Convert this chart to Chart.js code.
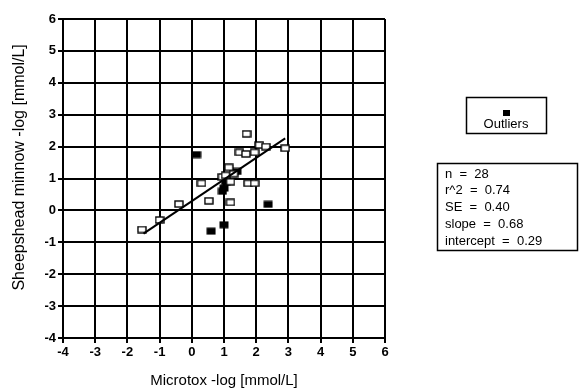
<!DOCTYPE html>
<html>
<head>
<meta charset="utf-8">
<script src="https://cdn.jsdelivr.net/npm/chart.js@4"></script>
<style>
  html, body { margin: 0; padding: 0; background: #fff; }
  #wrap { width: 581px; height: 391px; position: relative; }
</style>
</head>
<body>
<div id="wrap"><canvas id="fishChart" width="581" height="391"></canvas></div>
<script>
// data
const regularX = [-1.55, -1.0, -0.4, 0.3, 0.53, 1.2, 0.95, 1.15, 1.2, 1.75, 1.95, 1.48, 1.68, 1.95, 1.7, 2.1, 2.3, 2.9, 1.05, 1.3];
const regularY = [-0.6, -0.3, 0.2, 0.85, 0.3, 0.25, 1.05, 1.35, 0.9, 0.85, 0.85, 1.82, 1.77, 1.82, 2.4, 2.05, 2.0, 1.95, 1.1, 1.15];
const outlierX = [0.15, 2.37, 0.6, 1.0, 0.95, 1.0, 1.4, 1.05];
const outlierY = [1.75, 0.19, -0.65, -0.45, 0.6, 0.7, 1.22, 0.9];
const fitX = [-1.5, 2.9];
const fitY = [-0.73, 2.26];
const statsLines = ["n = 28", "r^2 = 0.74", "SE = 0.40", "slope = 0.68", "intercept = 0.29"];
const legendLabel = "Outliers";

const toPoints = (xs, ys) => xs.map((x, i) => ({ x: x, y: ys[i] }));

// little 9x7 squares like the scanned markers
function marker(filled) {
  const c = document.createElement("canvas");
  c.width = 10;
  c.height = 8;
  const g = c.getContext("2d");
  if (filled) {
    g.fillStyle = "#000";
    g.fillRect(0.5, 0.5, 9, 7);
  } else {
    g.fillStyle = "#fff";
    g.fillRect(1, 1, 8, 6);
    g.strokeStyle = "#000";
    g.lineWidth = 1.4;
    g.strokeRect(1, 1, 8, 6);
  }
  return c;
}
const openMark = marker(false);
const solidMark = marker(true);

const boxPlugin = {
  id: "boxes",
  afterDraw(chart) {
    const ctx = chart.ctx;
    ctx.save();
    ctx.strokeStyle = "#000";
    ctx.lineWidth = 1.5;
    ctx.fillStyle = "#000";
    // legend box
    ctx.strokeRect(466.5, 97.5, 80, 36);
    ctx.fillRect(503, 110, 7, 6);
    ctx.font = "13px 'Liberation Sans', Arial, sans-serif";
    ctx.textAlign = "center";
    ctx.textBaseline = "middle";
    ctx.fillText(legendLabel, 506, 124);
    // stats box
    ctx.strokeRect(437.5, 163.5, 140, 87);
    ctx.textAlign = "left";
    statsLines.forEach((s, i) => ctx.fillText(s.replace(/ = /, "  =  "), 445, 174 + i * 16.8));
    ctx.restore();
  },
};

const tickFont = { family: "'Liberation Sans', Arial, sans-serif", size: 13, weight: "bold" };

const ctx = document.getElementById("fishChart").getContext("2d");
new Chart(ctx, {
  type: "scatter",
  data: {
    datasets: [
      {
        label: "Regression",
        type: "line",
        data: toPoints(fitX, fitY),
        borderColor: "#000",
        borderWidth: 2,
        pointRadius: 0,
        fill: false,
      },
      {
        label: "Data",
        data: toPoints(regularX, regularY),
        pointStyle: openMark,
      },
      {
        label: legendLabel,
        data: toPoints(outlierX, outlierY),
        pointStyle: solidMark,
      },
    ],
  },
  options: {
    responsive: false,
    animation: false,
    layout: { padding: { top: 19, right: 196, left: 0, bottom: 0 } },
    plugins: { legend: { display: false }, tooltip: { enabled: false } },
    scales: {
      x: {
        type: "linear",
        min: -4,
        max: 6,
        afterFit: (s) => { s.height = 53; },
        ticks: { stepSize: 1, color: "#000", padding: 2, font: tickFont },
        grid: { color: "#000", lineWidth: 2, tickLength: 5 },
        border: { color: "#000", width: 2 },
        title: {
          display: true,
          text: "Microtox -log [mmol/L]",
          color: "#000",
          padding: { top: 0, bottom: 1 },
          font: { family: "'Liberation Sans', Arial, sans-serif", size: 15 },
        },
      },
      y: {
        type: "linear",
        min: -4,
        max: 6,
        afterFit: (s) => { s.width = 63; },
        ticks: { stepSize: 1, color: "#000", padding: 2, font: tickFont },
        grid: { color: "#000", lineWidth: 2, tickLength: 5 },
        border: { color: "#000", width: 2 },
        title: {
          display: true,
          // leading spaces nudge the rotated title up a little, as in the scan
          text: "     Sheepshead minnow -log [mmol/L]",
          color: "#000",
          padding: { top: 10, bottom: 0 },
          font: { family: "'Liberation Sans', Arial, sans-serif", size: 16 },
        },
      },
    },
  },
  plugins: [boxPlugin],
});
</script>
</body>
</html>
